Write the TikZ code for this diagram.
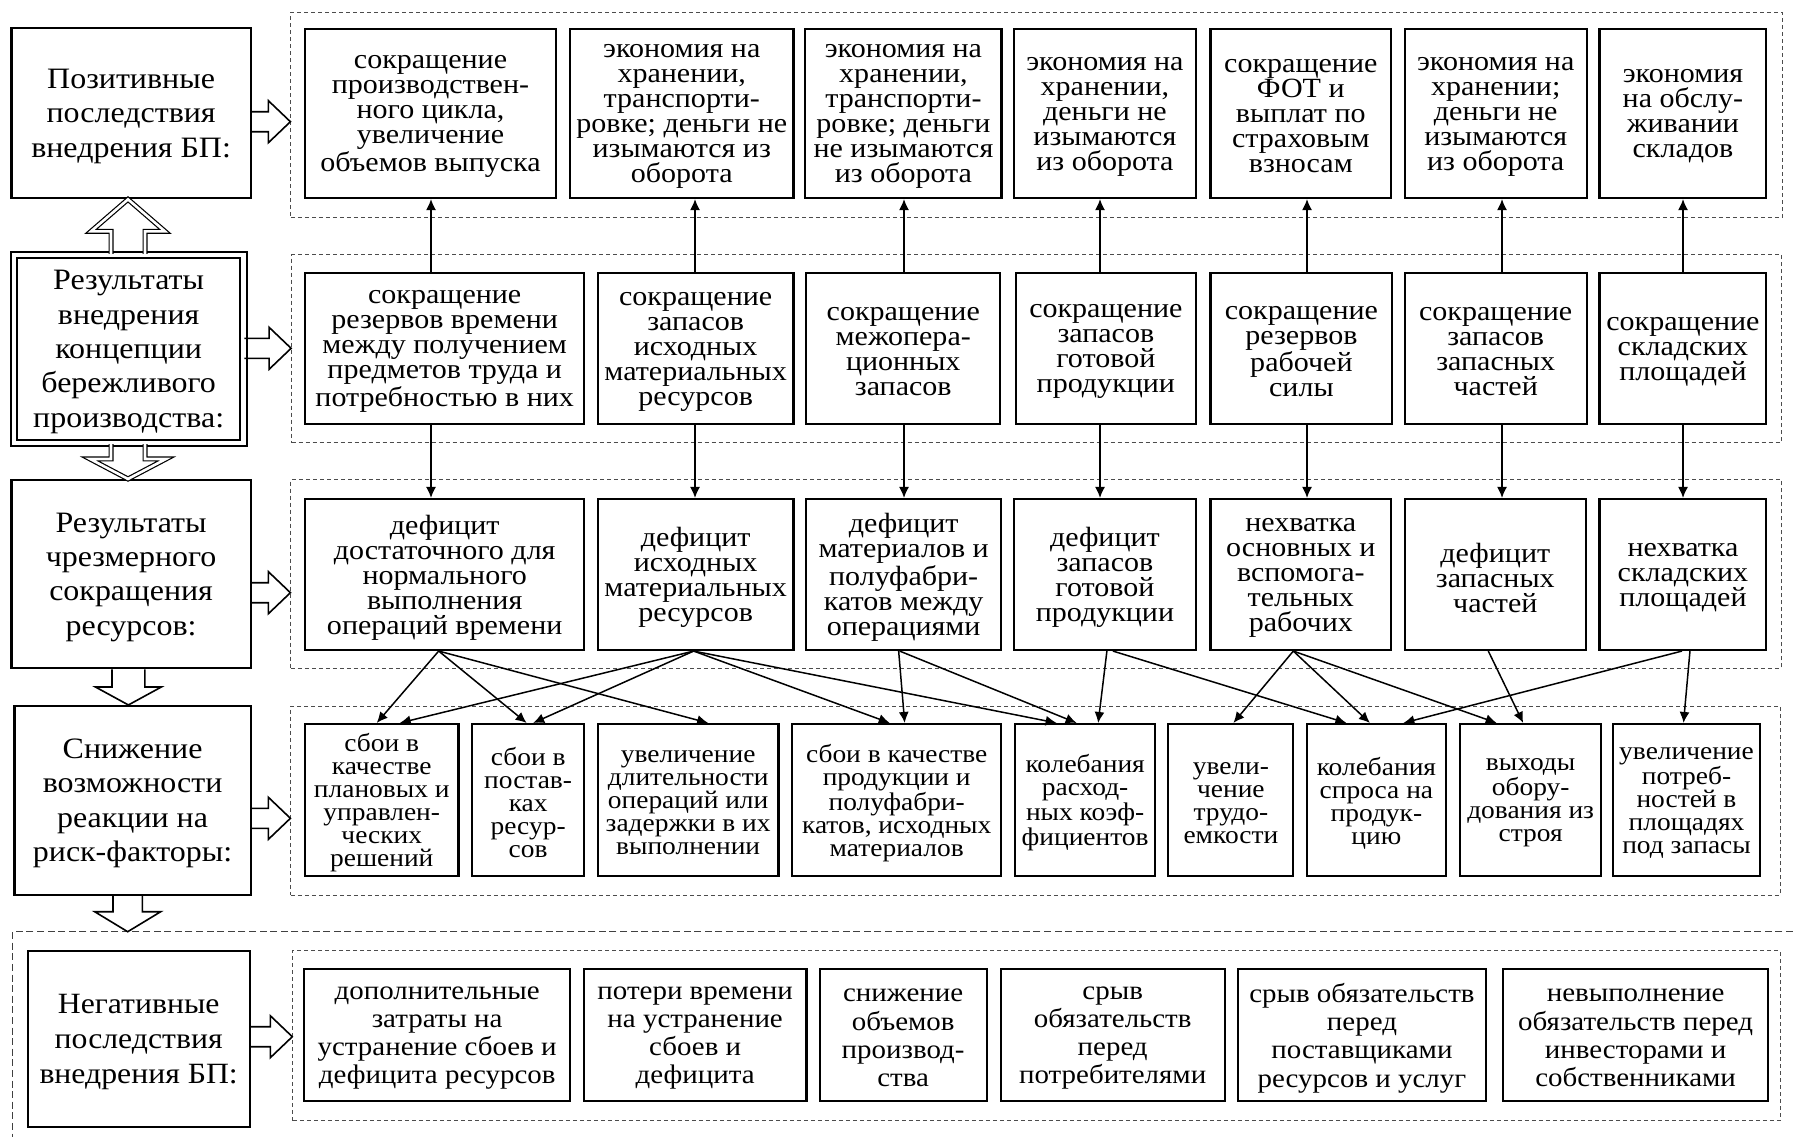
\documentclass[tikz,border=0pt]{standalone}
\usepackage{fontspec}
\setmainfont{Liberation Serif}[FakeStretch=1.08]
\usetikzlibrary{calc,fit,arrows.meta}

% vertical correction of the text block inside a frame
\newcommand\txtdrop{3}

% framed box from its two corners (pixel-like units, y downwards) with centred text
% #1 name, #2 frame style, #3 text style, #4-#7 corners, #8 text
\newcommand\bx[8]{%
  \node[#2, fit={(#4,#5) (#6,#7)}] (#1) {};
  \node[#3] (#1t) at ($(#1.center)+(0,\txtdrop)$) {#8};}

% hollow block arrow pointing right, from node #1 to node #2 at height #3
\newcommand\hollowright[3]{%
  \coordinate (hA) at (#1.east |- 0,#3);
  \coordinate (hB) at (#2.west |- 0,#3);
  \draw[hol] ($(hA)+(0,-10)$) -- ($(hB)+(-22,-10)$) -- ($(hB)+(-22,-21)$) -- (hB)
    -- ($(hB)+(-22,21)$) -- ($(hB)+(-22,10)$) -- ($(hA)+(0,10)$);}

% hollow block arrow pointing down: start, tip, x, shaft half, head half, head length, style
\newcommand\hollowdown[7]{%
  \coordinate (vA) at (#1 -| #3,0);
  \coordinate (vB) at (#2 -| #3,0);
  \draw[#7] ($(vA)+(-#4,0)$) -- ($(vB)+(-#4,-#6)$) -- ($(vB)+(-#5,-#6)$) -- (vB)
    -- ($(vB)+(#5,-#6)$) -- ($(vB)+(#4,-#6)$) -- ($(vA)+(#4,0)$);}

% hollow block arrow pointing up
\newcommand\hollowup[7]{%
  \coordinate (vA) at (#1 -| #3,0);
  \coordinate (vB) at (#2 -| #3,0);
  \draw[#7] ($(vA)+(-#4,0)$) -- ($(vB)+(-#4,#6)$) -- ($(vB)+(-#5,#6)$) -- (vB)
    -- ($(vB)+(#5,#6)$) -- ($(vB)+(#4,#6)$) -- ($(vA)+(#4,0)$);}

\begin{document}
\begin{tikzpicture}[x=0.5pt,y=-0.5pt,
  frame/.style={draw,line width=1.05pt,inner sep=0pt},
  frameD/.style={draw,double,line width=1pt,double distance=2.1pt,inner sep=0pt},
  txt/.style={inner sep=0pt,align=center},
  tA/.style={txt,font=\fontsize{13.9pt}{12.5pt}\selectfont},
  tB/.style={txt,font=\fontsize{12.7pt}{11.5pt}\selectfont},
  tC/.style={txt,font=\fontsize{13.4pt}{14.1pt}\selectfont},
  lab/.style={txt,font=\fontsize{14.8pt}{17.2pt}\selectfont},
  labfive/.style={txt,font=\fontsize{14.7pt}{17.5pt}\selectfont},
  grp/.style={draw=black!70,line width=0.5pt,dash pattern=on 2pt off 1.5pt,inner sep=0pt},
  grpouter/.style={draw=black!75,line width=0.75pt,dash pattern=on 3.5pt off 1.8pt},
  con/.style={-{Latex[length=5.5pt,width=5pt]},line width=0.75pt},
  hol/.style={line width=0.8pt,line join=miter},
  hold/.style={line width=0.6pt,double,double distance=1.3pt,line join=miter}]

\fill[white] (0,0) rectangle (1793,1137);
\path[use as bounding box] (0,0) rectangle (1793,1137);

% dashed groups
\node[grp, fit={(290.9,12) (1782,217.5)}] (G1) {};
\node[grp, fit={(291.6,254.5) (1781,442.7)}] (G2) {};
\node[grp, fit={(290.9,479.5) (1781,668.3)}] (G3) {};
\node[grp, fit={(290.9,706) (1780,895)}] (G4) {};
\node[grp, fit={(292.8,950.7) (1780,1120.7)}] (G6) {};
\draw[grpouter] (1793,931.7) -| (12.6,1137);
\coordinate (G5) at (12.6,931.7);

% left column
\bx{L1}{frame}{lab}{11.5}{28.3}{250.7}{198.3}{Позитивные\\последствия\\внедрения БП:}
\bx{L2}{frameD}{lab}{13.9}{254.8}{243.4}{443}{Результаты\\внедрения\\концепции\\бережливого\\производства:}
\bx{L3}{frame}{lab}{11.5}{480}{250.7}{668.3}{Результаты\\чрезмерного\\сокращения\\ресурсов:}
\bx{L4}{frame}{lab}{14.5}{706}{250.7}{895}{Снижение\\возможности\\реакции на\\риск-факторы:}
\bx{L5}{frame}{labfive}{27.6}{950.7}{249.7}{1126.7}{Негативные\\последствия\\внедрения БП:}

% row 1: positive consequences
\bx{r1c1}{frame}{tA}{305}{29}{556}{198}{сокращение\\производствен-\\ного цикла,\\увеличение\\объемов выпуска}
\bx{r1c2}{frame}{tA}{570}{29}{793.5}{198}{экономия на\\хранении,\\транспорти-\\ровке; деньги не\\изымаются из\\оборота}
\bx{r1c3}{frame}{tA}{805.4}{29}{1001.5}{198}{экономия на\\хранении,\\транспорти-\\ровке; деньги\\не изымаются\\из оборота}
\bx{r1c4}{frame}{tA}{1013.8}{29}{1196}{198}{экономия на\\хранении,\\деньги не\\изымаются\\из оборота}
\bx{r1c5}{frame}{tA}{1210.5}{29}{1391.1}{198}{сокращение\\ФОТ и\\выплат по\\страховым\\взносам}
\bx{r1c6}{frame}{tA}{1404.8}{29}{1586.6}{198}{экономия на\\хранении;\\деньги не\\изымаются\\из оборота}
\bx{r1c7}{frame}{tA}{1599.5}{29}{1766.4}{198}{экономия\\на обслу-\\живании\\складов}

% row 2: lean production results
\bx{r2c1}{frame}{tA}{305}{273}{584.4}{424}{сокращение\\резервов времени\\между получением\\предметов труда и\\потребностью в них}
\bx{r2c2}{frame}{tA}{597.8}{273}{793.5}{424}{сокращение\\запасов\\исходных\\материальных\\ресурсов}
\bx{r2c3}{frame}{tA}{806.2}{273}{1000.3}{424}{сокращение\\межопера-\\ционных\\запасов}
\bx{r2c4}{frame}{tA}{1016.1}{273}{1195.6}{424}{сокращение\\запасов\\готовой\\продукции}
\bx{r2c5}{frame}{tA}{1210.5}{273}{1392.3}{424}{сокращение\\резервов\\рабочей\\силы}
\bx{r2c6}{frame}{tA}{1404.8}{273}{1586.6}{424}{сокращение\\запасов\\запасных\\частей}
\bx{r2c7}{frame}{tA}{1599.5}{273}{1766.4}{424}{сокращение\\складских\\площадей}

% row 3: excessive reduction
\bx{r3c1}{frame}{tA}{305}{499}{584.4}{650}{дефицит\\достаточного для\\нормального\\выполнения\\операций времени}
\bx{r3c2}{frame}{tA}{597.8}{499}{793.5}{650}{дефицит\\исходных\\материальных\\ресурсов}
\bx{r3c3}{frame}{tA}{806.2}{499}{1001.1}{650}{дефицит\\материалов и\\полуфабри-\\катов между\\операциями}
\bx{r3c4}{frame}{tA}{1013.8}{499}{1196}{650}{дефицит\\запасов\\готовой\\продукции}
\bx{r3c5}{frame}{tA}{1210.5}{499}{1391.1}{650}{нехватка\\основных и\\вспомога-\\тельных\\рабочих}
\bx{r3c6}{frame}{tA}{1404.8}{499}{1585.8}{650}{дефицит\\запасных\\частей}
\bx{r3c7}{frame}{tA}{1599.5}{499}{1766.4}{650}{нехватка\\складских\\площадей}

% row 4: risk factors
\bx{r4c1}{frame}{tB}{305}{724}{458.5}{876}{сбои в\\качестве\\плановых и\\управлен-\\ческих\\решений}
\bx{r4c2}{frame}{tB}{471.9}{724}{584.4}{876}{сбои в\\постав-\\ках\\ресур-\\сов}
\bx{r4c3}{frame}{tB}{597.8}{724}{778.5}{876}{увеличение\\длительности\\операций или\\задержки в их\\выполнении}
\bx{r4c4}{frame}{tB}{792.3}{724}{1001.1}{876}{сбои в качестве\\продукции и\\полуфабри-\\катов, исходных\\материалов}
\bx{r4c5}{frame}{tB}{1015}{724}{1155.3}{876}{колебания\\расход-\\ных коэф-\\фициентов}
\bx{r4c6}{frame}{tB}{1168.4}{724}{1293.4}{876}{увели-\\чение\\трудо-\\емкости}
\bx{r4c7}{frame}{tB}{1307}{724}{1445.8}{876}{колебания\\спроса на\\продук-\\цию}
\bx{r4c8}{frame}{tB}{1460.3}{724}{1601}{876}{выходы\\обору-\\дования из\\строя}
\bx{r4c9}{frame}{tB}{1613.2}{724}{1759.8}{876}{увеличение\\потреб-\\ностей в\\площадях\\под запасы}

% row 5: negative consequences
\bx{r5c1}{frame}{tC}{304.3}{969}{570}{1101}{дополнительные\\затраты на\\устранение сбоев и\\дефицита ресурсов}
\bx{r5c2}{frame}{tC}{583.8}{969}{806.5}{1101}{потери времени\\на устранение\\сбоев и\\дефицита}
\bx{r5c3}{frame}{tC}{819.7}{969}{986.6}{1101}{снижение\\объемов\\производ-\\ства}
\bx{r5c4}{frame}{tC}{1000.6}{969}{1224.8}{1101}{срыв\\обязательств\\перед\\потребителями}
\bx{r5c5}{frame}{tC}{1238.2}{969}{1485.7}{1101}{срыв обязательств\\перед\\поставщиками\\ресурсов и услуг}
\bx{r5c6}{frame}{tC}{1503.2}{969}{1768}{1101}{невыполнение\\обязательств перед\\инвесторами и\\собственниками}

% block arrows of the left column
\hollowright{L1}{G1}{121.7}
\hollowright{L2}{G2}{348.3}
\hollowright{L3}{G3}{592.7}
\hollowright{L4}{G4}{818.3}
\hollowright{L5}{G6}{1036.7}
\hollowup{L2.north}{L1.south}{128}{17}{37}{32}{hold}
\hollowdown{L2.south}{L3.north}{128}{17}{38}{20}{hold}
\hollowdown{L3.south}{L4.north}{128.4}{16.4}{33}{18}{hol}
\hollowdown{L4.south}{G5}{127.7}{14.7}{33}{20}{hol}

% vertical links between rows 1, 2 and 3
\foreach \c/\x in {1/431,2/695,3/904,4/1100,5/1307,6/1502,7/1683}{
  \coordinate (vx\c) at (\x,0);
  \draw[con] (r2c\c.north -| vx\c) -- (r1c\c.south -| vx\c);
  \draw[con] (r2c\c.south -| vx\c) -- (r3c\c.north -| vx\c);
}

% links from row 3 to row 4
\foreach \s/\a/\t/\b in {
  r3c1/-6/r4c1/-5, r3c1/-6/r4c2/-1.5, r3c1/-6/r4c3/20,
  r3c2/-2/r4c1/18, r3c2/-2/r4c2/5, r3c2/-2/r4c4/-7, r3c2/-2/r4c5/-28.5,
  r3c3/-5/r4c4/8, r3c3/-4/r4c5/-8.5,
  r3c4/2/r4c5/13, r3c4/8/r4c7/-30,
  r3c5/-7.5/r4c6/2.5, r3c5/-7.5/r4c7/-6.5, r3c5/-7.5/r4c8/-34,
  r3c6/-7/r4c8/-7.5,
  r3c7/-1/r4c7/27, r3c7/7/r4c9/-3}{
  \draw[con] ([shift={(\a,0)}]\s.south) -- ([shift={(\b,0)}]\t.north);
}
\end{tikzpicture}
\end{document}
